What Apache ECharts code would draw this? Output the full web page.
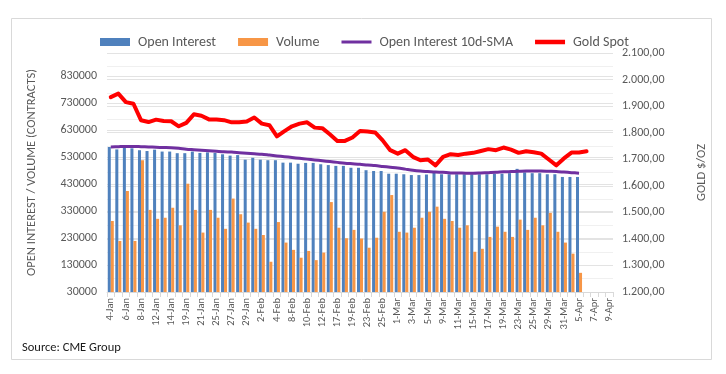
<!DOCTYPE html>
<html><head><meta charset="utf-8">
<script src="https://cdn.jsdelivr.net/npm/echarts@6/dist/echarts.min.js"></script>
<style>html,body{margin:0;padding:0;background:#fff}#c{width:726px;height:374px}</style>
</head><body><div id="c"></div>
<script>
const categories = [
 '4-Jan','5-Jan','6-Jan','7-Jan','8-Jan','11-Jan','12-Jan','13-Jan','14-Jan','15-Jan','19-Jan','20-Jan','21-Jan','22-Jan','25-Jan','26-Jan','27-Jan','28-Jan','29-Jan',
 '1-Feb','2-Feb','3-Feb','4-Feb','5-Feb','8-Feb','9-Feb','10-Feb','11-Feb','12-Feb','16-Feb','17-Feb','18-Feb','19-Feb','22-Feb','23-Feb','24-Feb','25-Feb','26-Feb',
 '1-Mar','2-Mar','3-Mar','4-Mar','5-Mar','8-Mar','9-Mar','10-Mar','11-Mar','12-Mar','15-Mar','16-Mar','17-Mar','18-Mar','19-Mar','22-Mar','23-Mar','24-Mar','25-Mar','26-Mar','29-Mar','30-Mar','31-Mar',
 '1-Apr','5-Apr','6-Apr','7-Apr','8-Apr','9-Apr'];

const openInterest = [
 567000,558000,571000,562000,555000,552000,557000,550000,550000,544000,544000,550000,545000,547000,545000,540000,535000,537000,520000,
 527000,520000,518000,518000,509000,509000,505000,508000,508000,503000,500000,497000,497000,490000,490000,481000,478000,478000,468000,
 468000,466000,463000,463000,465000,478000,466000,466000,466000,466000,466000,466000,466000,468000,468000,470000,486000,473000,470000,470000,466000,466000,456000,
 456000,456000];

const volume = [
 293000,219000,404000,219000,518000,334000,301000,305000,342000,277000,431000,334000,250000,334000,305000,264000,376000,318000,287000,
 264000,241000,142000,289000,213000,186000,157000,182000,148000,176000,363000,268000,229000,260000,228000,194000,231000,327000,389000,
 253000,250000,268000,305000,327000,346000,301000,293000,268000,277000,179000,190000,234000,272000,253000,234000,298000,260000,305000,277000,323000,253000,213000,
 172000,101000];

const oiSma = [
 567000,568000,569000,569000,568000,567000,566000,565000,564000,562000,559000,557000,555000,553000,551000,549000,548000,546000,544000,
 542000,540000,537000,534000,531000,528000,525000,522000,519000,516000,513000,510000,507000,505000,503000,500000,498000,495000,492000,
 489000,485000,481000,478000,476000,474000,473000,471000,471000,470000,470000,471000,472000,473000,475000,476000,477000,478000,478000,478000,477000,476000,474000,
 472000,470000];

const goldSpot = [
 1934,1947,1915,1909,1847,1840,1849,1844,1843,1824,1837,1869,1864,1850,1850,1847,1839,1839,1842,
 1857,1834,1828,1786,1806,1824,1834,1839,1819,1817,1794,1769,1769,1782,1806,1804,1801,1771,1734,
 1721,1734,1709,1696,1699,1677,1709,1719,1716,1721,1724,1731,1738,1734,1744,1736,1724,1730,1726,1721,1699,1677,1703,
 1725,1725,1730];

const leftMin = 30000, leftMax = 915000, leftStep = 100000;
const rightMin = 1200, rightMax = 2100, rightStep = 100;

const FONT = 'Carlito, Lato, "Open Sans", sans-serif';
const GREY = '#595959';

function fmtGold(v){
  const s = Math.round(v).toString().replace(/\B(?=(\d{3})+(?!\d))/g, '.');
  return s + ',00';
}
// thin line legend icons (invisible zero-size subpaths keep the 30x8 bounding box)
const lineIcon = h => 'path://M0,0 L0.01,0 L0,0.01 Z M0,8 L0.01,8 L0,7.99 Z M0,' + (4 - h/2) + ' L30,' + (4 - h/2) + ' L30,' + (4 + h/2) + ' L0,' + (4 + h/2) + ' Z';

const chart = echarts.init(document.getElementById('c'), null, {renderer: 'canvas'});
chart.setOption({
  animation: false,
  backgroundColor: '#ffffff',
  textStyle: {fontFamily: FONT},
  graphic: [
    {type: 'rect', shape: {x: 11.5, y: 18.5, width: 700, height: 341}, style: {fill: 'none', stroke: '#d9d9d9', lineWidth: 1}, z: -10},
    {type: 'text', left: 22, top: 341, style: {text: 'Source: CME Group', fill: '#1a1a1a', font: '12.5px ' + FONT}}
  ],
  legend: {
    top: 30, left: 95,
    itemWidth: 30, itemHeight: 8, itemGap: 22,
    textStyle: {color: GREY, fontSize: 14, fontFamily: FONT, padding: [0,0,0,3]},
    data: [
      {name: 'Open Interest', icon: 'rect'},
      {name: 'Volume', icon: 'rect'},
      {name: 'Open Interest 10d-SMA', icon: lineIcon(3)},
      {name: 'Gold Spot', icon: lineIcon(4.5)}
    ]
  },
  grid: {left: 107, right: 113, top: 53, bottom: 82, containLabel: false},
  xAxis: {
    type: 'category', data: categories, boundaryGap: true,
    axisLine: {show: true, lineStyle: {color: '#d9d9d9'}},
    axisTick: {show: true, alignWithLabel: false, interval: 0, length: 5, lineStyle: {color: '#d9d9d9'}},
    axisLabel: {interval: 1, rotate: 90, color: GREY, fontSize: 10.5, fontFamily: FONT, margin: 6},
    splitLine: {show: false}
  },
  yAxis: [
    {
      type: 'value', position: 'left', min: leftMin, max: leftMax, interval: leftStep,
      name: 'OPEN INTEREST / VOLUME (CONTRACTS)', nameLocation: 'middle', nameRotate: 90, nameGap: 69,
      nameTextStyle: {color: GREY, fontSize: 12.5, fontFamily: FONT},
      axisLine: {show: false}, axisTick: {show: false},
      axisLabel: {color: GREY, fontSize: 12, fontFamily: FONT, margin: 10,
        formatter: v => (v > 900000 ? '' : String(v))},
      splitLine: {show: true, lineStyle: {color: '#e3e3e3', width: 1}}
    },
    {
      type: 'value', position: 'right', min: rightMin, max: rightMax, interval: rightStep,
      name: 'GOLD $/OZ', nameLocation: 'middle', nameRotate: 90, nameGap: 82,
      nameTextStyle: {color: GREY, fontSize: 12.5, fontFamily: FONT},
      axisLine: {show: false}, axisTick: {show: false},
      axisLabel: {color: GREY, fontSize: 12, fontFamily: FONT, margin: 9, formatter: fmtGold},
      splitLine: {show: true, lineStyle: {color: '#e3e3e3', width: 1}},
      minorTick: {show: false, splitNumber: 2},
      minorSplitLine: {show: true, lineStyle: {color: '#f0f0f0', width: 1}}
    }
  ],
  series: [
    {name: 'Open Interest', type: 'bar', yAxisIndex: 0, data: openInterest,
     barGap: '0%', barCategoryGap: '20%', itemStyle: {color: '#4F81BD'}, z: 2},
    {name: 'Volume', type: 'bar', yAxisIndex: 0, data: volume,
     itemStyle: {color: '#F79646'}, z: 2},
    {name: 'Open Interest 10d-SMA', type: 'line', yAxisIndex: 0, data: oiSma,
     symbol: 'none', smooth: 0.3, lineStyle: {color: '#7030A0', width: 3}, itemStyle: {color: '#7030A0'}, z: 3},
    {name: 'Gold Spot', type: 'line', yAxisIndex: 1, data: goldSpot,
     symbol: 'none', lineStyle: {color: '#FF0000', width: 4, join: 'round', cap: 'round'}, itemStyle: {color: '#FF0000'}, z: 4}
  ]
});
</script>
</body></html>
